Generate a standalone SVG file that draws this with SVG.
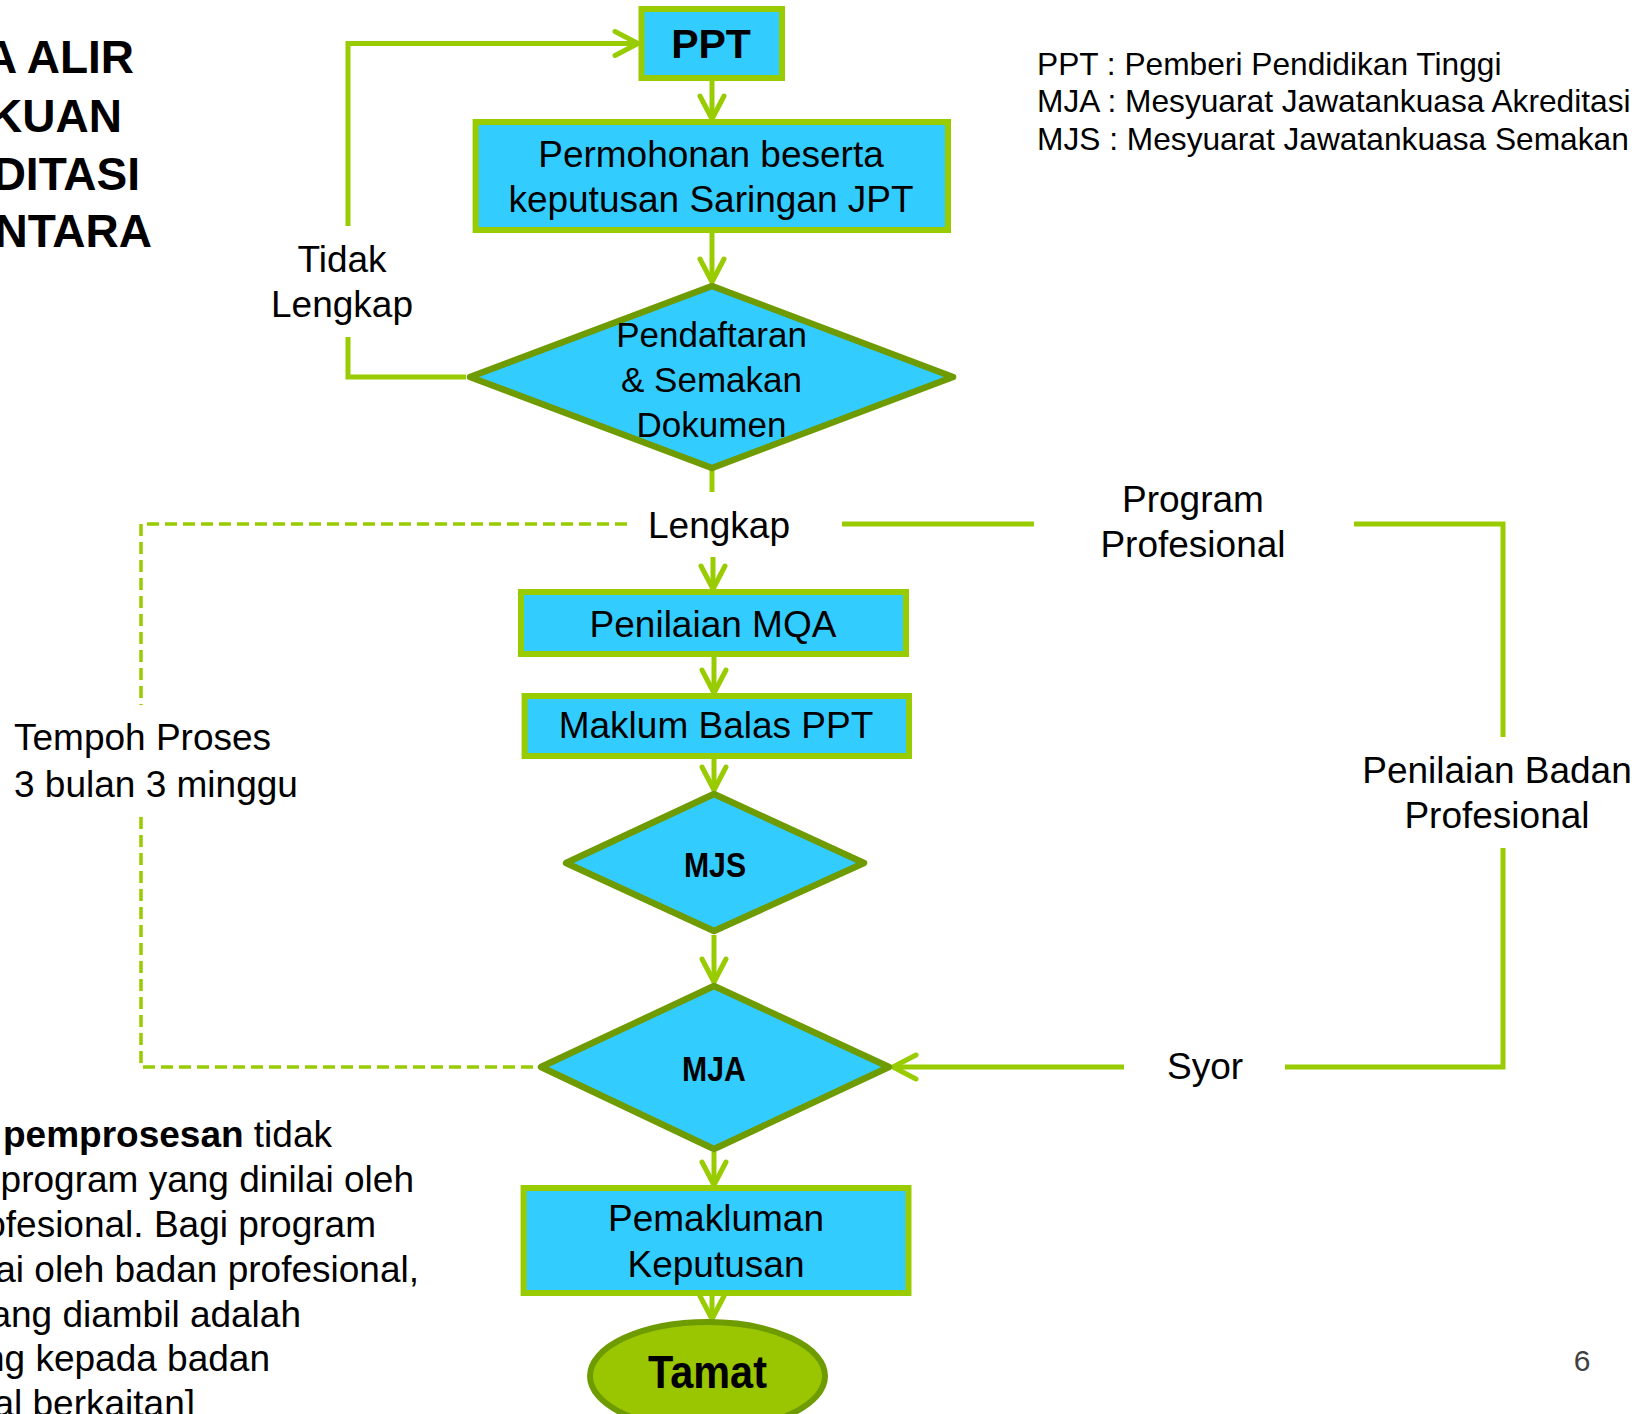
<svg xmlns="http://www.w3.org/2000/svg" width="1652" height="1414" viewBox="0 0 1652 1414">
<defs>
<style>
text{font-family:"Liberation Sans",Arial,Helvetica,sans-serif;fill:#000}
.t37{font-size:37px}
.mid{text-anchor:middle}
.end{text-anchor:end}
.box{fill:#33CCFF;stroke:#99CC00;stroke-width:6}
.dia{fill:#33CCFF;stroke:#6E9B00;stroke-width:6.5;stroke-linejoin:round}
.ln{fill:none;stroke:#99CC00;stroke-width:5}
.dash{fill:none;stroke:#99CC00;stroke-width:3.5;stroke-dasharray:12 6}
.title{font-size:46px;font-weight:bold;text-anchor:end}
.bold{font-weight:bold}
.lg{font-size:31.7px}
</style>
<marker id="ah" markerUnits="userSpaceOnUse" markerWidth="40" markerHeight="40" viewBox="-5 -20 40 40" refX="24" refY="0" orient="auto" overflow="visible">
<path d="M1,-12 L24,0 L1,12" fill="none" stroke="#99CC00" stroke-width="5" stroke-linecap="round" stroke-linejoin="round"/>
</marker>
</defs>
<rect width="1652" height="1414" fill="#FFFFFF"/>

<g id="title">
<text class="title" x="134" y="73">A ALIR</text>
<text class="title" x="122" y="132">KUAN</text>
<text class="title" x="140" y="190">DITASI</text>
<text class="title" x="152" y="247">NTARA</text>
</g>

<g id="legend">
<text class="lg" x="1037" y="75">PPT : Pemberi Pendidikan Tinggi</text>
<text class="lg" x="1037" y="112">MJA : Mesyuarat Jawatankuasa Akreditasi</text>
<text class="lg" x="1037" y="150">MJS : Mesyuarat Jawatankuasa Semakan</text>
</g>

<g id="note">
<text class="t37 end" x="332" y="1147"><tspan class="bold">pemprosesan</tspan> tidak</text>
<text class="t37 end" x="414" y="1192">program yang dinilai oleh</text>
<text class="t37 end" x="376" y="1237">ofesional. Bagi program</text>
<text class="t37 end" x="419" y="1282">ai oleh badan profesional,</text>
<text class="t37 end" x="301" y="1327">ang diambil adalah</text>
<text class="t37 end" x="270" y="1371">ng kepada badan</text>
<text class="t37 end" x="195" y="1416">al berkaitan]</text>
</g>

<g id="connectors">
<line class="ln" x1="712" y1="81" x2="712" y2="119" marker-end="url(#ah)"/>
<line class="ln" x1="712" y1="233" x2="712" y2="282" marker-end="url(#ah)"/>
<line class="ln" x1="712" y1="470" x2="712" y2="492"/>
<line class="ln" x1="713" y1="557" x2="713" y2="589" marker-end="url(#ah)"/>
<line class="ln" x1="714" y1="657" x2="714" y2="693" marker-end="url(#ah)"/>
<line class="ln" x1="714" y1="759" x2="714" y2="790" marker-end="url(#ah)"/>
<line class="ln" x1="714" y1="935" x2="714" y2="982" marker-end="url(#ah)"/>
<line class="ln" x1="714" y1="1152" x2="714" y2="1185" marker-end="url(#ah)"/>
<line class="ln" x1="712" y1="1296" x2="712" y2="1319" marker-end="url(#ah)"/>
<polyline class="ln" points="466,377 348,377 348,337"/>
<polyline class="ln" points="348,226 348,43.5 638,43.5" marker-end="url(#ah)"/>
<polyline class="dash" points="627,524 141,524 141,705"/>
<polyline class="dash" points="141,817 141,1067 537,1067"/>
<line class="ln" x1="842" y1="524" x2="1034" y2="524"/>
<polyline class="ln" points="1354,524 1503,524 1503,737"/>
<polyline class="ln" points="1503,848 1503,1067 1285,1067"/>
<line class="ln" x1="1124" y1="1067" x2="893" y2="1067" marker-end="url(#ah)"/>
</g>

<g id="labels">
<text class="t37 mid" x="342" y="272">Tidak</text>
<text class="t37 mid" x="342" y="317">Lengkap</text>
<text class="t37 mid" x="719" y="538">Lengkap</text>
<text class="t37 mid" x="1193" y="512">Program</text>
<text class="t37 mid" x="1193" y="557">Profesional</text>
<text class="t37" x="14" y="750">Tempoh Proses</text>
<text class="t37" x="14" y="797">3 bulan 3 minggu</text>
<text class="t37 mid" x="1497" y="783">Penilaian Badan</text>
<text class="t37 mid" x="1497" y="828">Profesional</text>
<text class="t37 mid" x="1205" y="1079">Syor</text>
</g>

<g id="node-ppt">
<rect class="box" x="641.5" y="9" width="140.5" height="69"/>
<text class="mid bold" x="711" y="58" style="font-size:41px">PPT</text>
</g>

<g id="node-permohonan">
<rect class="box" x="475.6" y="122" width="472.4" height="108"/>
<text class="t37 mid" x="711" y="167">Permohonan beserta</text>
<text class="t37 mid" x="711" y="212">keputusan Saringan JPT</text>
</g>

<g id="node-pendaftaran">
<polygon class="dia" points="470,377 712,286 953,377 712,468"/>
<text class="mid" x="711.5" y="347" style="font-size:35px">Pendaftaran</text>
<text class="mid" x="711.5" y="392" style="font-size:35px">&amp; Semakan</text>
<text class="mid" x="711.5" y="437" style="font-size:35px">Dokumen</text>
</g>

<g id="node-mqa">
<rect class="box" x="521" y="592" width="385" height="62"/>
<text class="t37 mid" x="713" y="637">Penilaian MQA</text>
</g>

<g id="node-maklum">
<rect class="box" x="524.6" y="696" width="384.4" height="60"/>
<text class="t37 mid" x="716" y="738">Maklum Balas PPT</text>
</g>

<g id="node-mjs">
<polygon class="dia" points="566,863 714,794 864,863 714,931"/>
<text class="mid bold" transform="translate(715,877) scale(0.84,1)" x="0" y="0" style="font-size:36px">MJS</text>
</g>

<g id="node-mja">
<polygon class="dia" points="541,1067 714,986 889,1067 714,1149"/>
<text class="mid bold" transform="translate(714,1081) scale(0.84,1)" x="0" y="0" style="font-size:36px">MJA</text>
</g>

<g id="node-pemakluman">
<rect class="box" x="523.6" y="1188" width="384.9" height="105"/>
<text class="t37 mid" x="716" y="1231">Pemakluman</text>
<text class="t37 mid" x="716" y="1277">Keputusan</text>
</g>

<g id="node-tamat">
<ellipse cx="707.5" cy="1376" rx="117.5" ry="54" fill="#99C600" stroke="#6E9B00" stroke-width="6"/>
<text class="mid bold" transform="translate(707.5,1388) scale(0.9,1)" x="0" y="0" style="font-size:46px">Tamat</text>
</g>

<text x="1582" y="1371" text-anchor="middle" style="font-size:30px;fill:#404040">6</text>
</svg>
